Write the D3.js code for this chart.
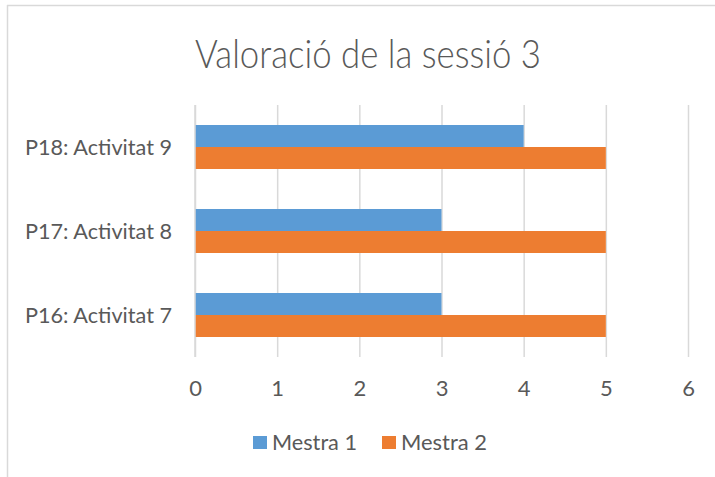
<!DOCTYPE html>
<html>
<head>
<meta charset="utf-8">
<script src="https://cdn.jsdelivr.net/npm/d3@7"></script>
<style>
  html, body { margin: 0; padding: 0; background: #fff; }
  svg { display: block; }
  text { font-family: Lato, "Open Sans", sans-serif; fill: #595959; }
</style>
</head>
<body>
<svg id="chart" width="715" height="477"></svg>
<script>
const title = "Valoració de la sessió 3";
const categories = ["P18: Activitat 9", "P17: Activitat 8", "P16: Activitat 7"];
const seriesNames = ["Mestra 1", "Mestra 2"];
const mestra1 = [4, 3, 3];
const mestra2 = [5, 5, 5];
const xTicks = [0, 1, 2, 3, 4, 5, 6];
const colors = ["#5B9BD5", "#ED7D31"];

const svg = d3.select("#chart");
const W = 715, H = 477;

// chart border (top and left visible)
svg.append("line").attr("x1", 7).attr("x2", W).attr("y1", 5.5).attr("y2", 5.5)
  .attr("stroke", "#d9d9d9").attr("stroke-width", 1.5);
svg.append("line").attr("x1", 7.5).attr("x2", 7.5).attr("y1", 5).attr("y2", H)
  .attr("stroke", "#d9d9d9").attr("stroke-width", 1.5);

const x = d3.scaleLinear().domain([0, 6]).range([195, 688]);
const y = d3.scaleBand().domain(categories).range([105, 357]).paddingInner(0).paddingOuter(0);
const barH = 22;

// gridlines
const xAxis = d3.axisBottom(x).tickValues(xTicks).tickSize(-(357 - 105)).tickFormat(d3.format("d"));
const gx = svg.append("g").attr("transform", "translate(0,357)").call(xAxis);
gx.select(".domain").remove();
gx.selectAll(".tick line").attr("stroke", "#d9d9d9").attr("stroke-width", 1.5);
gx.selectAll(".tick text").attr("fill", "#595959").style("font-size", "22px")
  .attr("y", 0).attr("dy", "0").attr("transform", "translate(0,39)");

// bars
const data = categories.map((c, i) => ({ cat: c, vals: [mestra1[i], mestra2[i]] }));
const groups = svg.append("g").selectAll("g").data(data).join("g");
groups.selectAll("rect").data(d => d.vals.map((v, j) => ({ cat: d.cat, v, j })))
  .join("rect")
  .attr("x", x(0))
  .attr("y", d => y(d.cat) + y.bandwidth() / 2 - barH + d.j * barH)
  .attr("width", d => x(d.v) - x(0))
  .attr("height", barH)
  .attr("fill", d => colors[d.j]);

// category axis
const yAxis = d3.axisLeft(y).tickSize(0).tickPadding(0);
const gy = svg.append("g").attr("transform", "translate(172,0)").call(yAxis);
gy.select(".domain").remove();
gy.selectAll(".tick text").attr("fill", "#595959").style("font-size", "21px")
  .attr("dy", "0.36em").attr("x", 0)
  .attr("textLength", 147).attr("lengthAdjust", "spacingAndGlyphs");

// vertical axis line at 0
svg.append("line").attr("x1", x(0)).attr("x2", x(0)).attr("y1", 105).attr("y2", 357)
  .attr("stroke", "#d9d9d9").attr("stroke-width", 1.5);

// title
svg.append("text").attr("x", 195).attr("y", 68).text(title)
  .style("font-size", "40px").style("font-weight", 300)
  .attr("textLength", 346).attr("lengthAdjust", "spacingAndGlyphs");

// legend
const legendItems = [
  { name: seriesNames[0], color: colors[0], sx: 253, tx: 272, tw: 85 },
  { name: seriesNames[1], color: colors[1], sx: 382, tx: 401, tw: 86 }
];
const lg = svg.append("g").selectAll("g").data(legendItems).join("g");
lg.append("rect").attr("x", d => d.sx).attr("y", 436).attr("width", 14).attr("height", 13)
  .attr("fill", d => d.color);
lg.append("text").attr("x", d => d.tx).attr("y", 450).text(d => d.name)
  .style("font-size", "21px")
  .attr("textLength", d => d.tw).attr("lengthAdjust", "spacingAndGlyphs");
</script>
</body>
</html>
